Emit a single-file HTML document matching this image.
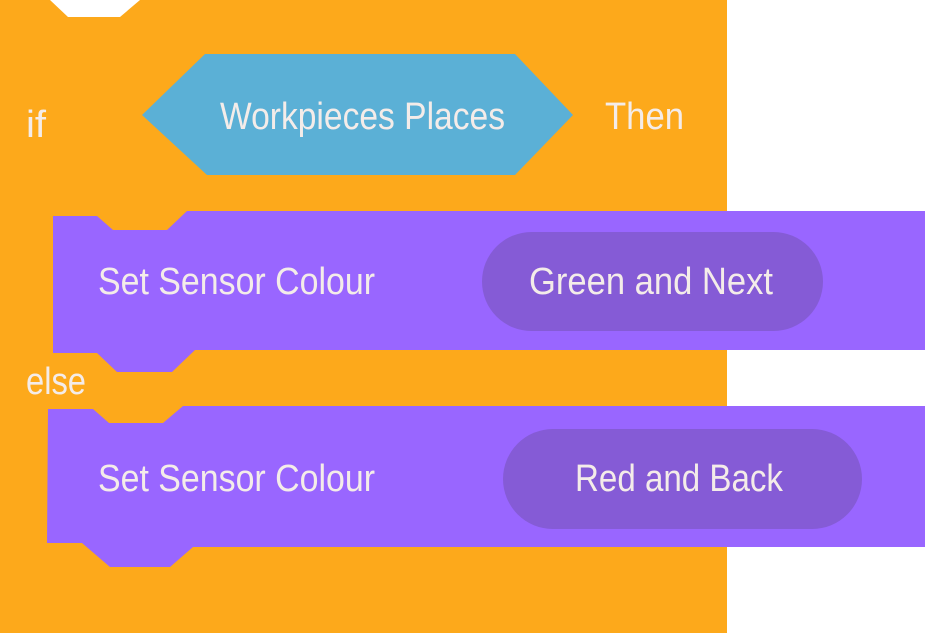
<!DOCTYPE html>
<html><head><meta charset="utf-8"><style>
html,body{margin:0;padding:0;background:#fff;width:926px;height:633px;overflow:hidden}
svg{display:block}
text{font-family:"Liberation Sans",sans-serif;fill:#f4ece9;font-size:38px}
</style></head><body>
<svg width="926" height="633" viewBox="0 0 926 633">
<path d="M0,0 H50 L68,17 H120 L140,0 H727 V633 H0 Z" fill="#fda91b"/>
<polygon points="142,115 205,54 515,54 573,115 515,175 207,175" fill="#5bb0d6"/>
<path d="M53,216 H97 L113,230 H167 L187,211 H925 V350 H195 L172,372 H117 L97,353 H53 Z" fill="#9966ff"/>
<path d="M48,409 H93 L109,423 H163 L183,406 H925 V547 H193 L170,567 H110 L82,543 H47 Z" fill="#9966ff"/>
<rect x="482" y="232" width="341" height="99" rx="49.5" fill="#855bd6"/>
<rect x="503" y="429" width="359" height="100" rx="50" fill="#855bd6"/>
<text x="26" y="137" textLength="20" lengthAdjust="spacingAndGlyphs">if</text>
<text x="220" y="129" textLength="285" lengthAdjust="spacingAndGlyphs">Workpieces Places</text>
<text x="605" y="129" textLength="79" lengthAdjust="spacingAndGlyphs">Then</text>
<text x="98" y="294" textLength="277" lengthAdjust="spacingAndGlyphs">Set Sensor Colour</text>
<text x="529" y="294" textLength="244" lengthAdjust="spacingAndGlyphs">Green and Next</text>
<text x="26" y="394" textLength="60" lengthAdjust="spacingAndGlyphs">else</text>
<text x="98" y="491" textLength="277" lengthAdjust="spacingAndGlyphs">Set Sensor Colour</text>
<text x="575" y="491" textLength="208" lengthAdjust="spacingAndGlyphs">Red and Back</text>
</svg>
</body></html>
